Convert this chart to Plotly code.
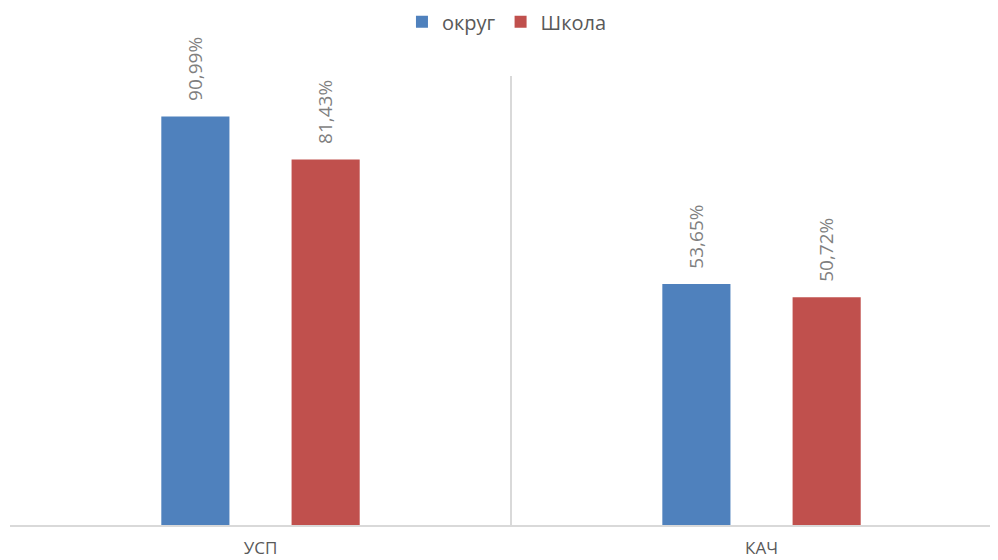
import plotly.graph_objects as go

categories = ["УСП", "КАЧ"]
okrug = [90.99, 53.65]
shkola = [81.43, 50.72]
okrug_labels = ["90,99%", "53,65%"]
shkola_labels = ["81,43%", "50,72%"]

FONT = "Open Sans"

fig = go.Figure()
fig.add_trace(go.Bar(
    name="округ", x=categories, y=okrug,
    marker=dict(color="#4F81BD", line=dict(width=0)),
))
fig.add_trace(go.Bar(
    name="Школа", x=categories, y=shkola,
    marker=dict(color="#C0504D", line=dict(width=0)),
))

for vals, labels, shift in ((okrug, okrug_labels, -65), (shkola, shkola_labels, 65)):
    for c, v, t in zip(categories, vals, labels):
        fig.add_annotation(x=c, y=v, text=t, showarrow=False, textangle=-90,
                           xanchor="center", yanchor="bottom", xshift=shift, yshift=13,
                           font=dict(family=FONT, size=19, color="#7F7F7F"))

fig.update_layout(
    width=990, height=552,
    margin=dict(l=2, r=0, t=68, b=35, autoexpand=False),
    paper_bgcolor="white", plot_bgcolor="white",
    barmode="group", bargap=0.48, bargroupgap=0.477,
    font=dict(family=FONT, color="#595959"),
    legend=dict(orientation="h", x=0.503, xanchor="center", y=0.975, yanchor="middle",
                yref="container", font=dict(size=20, color="#595959"), itemwidth=30),
    xaxis=dict(type="category", range=[-0.5, 1.472], tickson="boundaries", automargin=False,
               showgrid=True, gridcolor="#D9D9D9", gridwidth=1.5,
               showline=True, linecolor="#D9D9D9", linewidth=1.5,
               ticks="", tickfont=dict(size=17, color="#595959"), ticklabelstandoff=7),
    yaxis=dict(range=[0, 100], showgrid=False, zeroline=False, showticklabels=False,
               showline=False, ticks="", automargin=False),
)

fig.write_html("out.html")
